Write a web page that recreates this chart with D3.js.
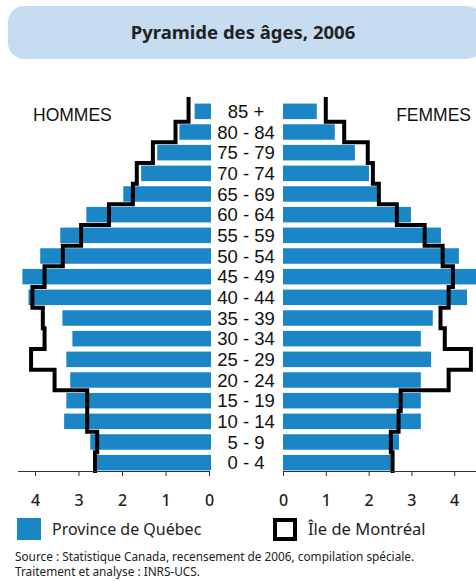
<!DOCTYPE html>
<html><head><meta charset="utf-8">
<script src="https://cdn.jsdelivr.net/npm/d3@7"></script>
<style>body{margin:0;background:#fff;} svg{display:block}</style>
</head><body>
<script>
const ageGroups = ["85 +","80 - 84","75 - 79","70 - 74","65 - 69","60 - 64","55 - 59","50 - 54","45 - 49","40 - 44","35 - 39","30 - 34","25 - 29","20 - 24","15 - 19","10 - 14","5 - 9","0 - 4"];
const quebecMen     = [0.33,0.68,1.19,1.56,1.97,2.82,3.42,3.88,4.29,4.15,3.37,3.14,3.28,3.19,3.28,3.33,2.73,2.59];
const montrealMen   = [0.47,0.77,1.29,1.66,1.75,2.30,2.94,3.36,3.78,4.06,3.82,3.78,4.09,3.55,2.80,2.80,2.57,2.62];
const quebecWomen   = [0.79,1.21,1.68,2.01,2.20,2.99,3.69,4.11,4.55,4.30,3.50,3.22,3.46,3.22,3.22,3.22,2.71,2.52];
const montrealWomen = [1.00,1.43,1.98,2.10,2.24,2.66,3.31,3.73,3.97,3.87,3.68,3.78,4.39,3.87,2.75,2.70,2.52,2.56];
const tickValues = [0,1,2,3,4];
const titleText = "Pyramide des âges, 2006";
const legendLabels = ["Province de Québec","Île de Montréal"];
const sourceLines = ["Source : Statistique Canada, recensement de 2006, compilation spéciale.","Traitement et analyse : INRS-UCS."];

const W = 476, H = 581;
const blue = "#1b86c6";
const font = "'Noto Sans', 'DejaVu Sans', sans-serif";
const svg = d3.select("body").append("svg").attr("width", W).attr("height", H);

// title box
svg.append("rect").attr("x", 8).attr("y", 6).attr("width", 475).attr("height", 53)
  .attr("rx", 16).attr("fill", "#c5dcf1");
svg.append("text").attr("x", 243).attr("y", 39).attr("text-anchor", "middle")
  .attr("font-family", font).attr("font-weight", "bold").attr("font-size", 18.5)
  .attr("fill", "#222").text(titleText);

// scales
const y = d3.scaleBand().domain(ageGroups).range([101, 473]).paddingInner(0.25).paddingOuter(0.125);
const xL = d3.scaleLinear().domain([0, 4.4]).range([209, 209 - 4.4 * 43.5]);
const xR = d3.scaleLinear().domain([0, 4.5]).range([283, 283 + 4.5 * 42.8]);
const axisY = 471;

// bars
svg.append("g").selectAll("rect").data(ageGroups).join("rect")
  .attr("x", (d, i) => xL(quebecMen[i])).attr("y", d => y(d))
  .attr("width", (d, i) => xL(0) - xL(quebecMen[i]) + 2).attr("height", y.bandwidth())
  .attr("fill", blue);
svg.append("g").selectAll("rect").data(ageGroups).join("rect")
  .attr("x", xR(0)).attr("y", d => y(d))
  .attr("width", (d, i) => xR(quebecWomen[i]) - xR(0)).attr("height", y.bandwidth())
  .attr("fill", blue);

// step lines
const half = y.step() * y.paddingInner() / 2;
function stepPoints(vals, x) {
  const pts = [];
  ageGroups.forEach((a, i) => {
    const top = y(a) - half - (i === 0 ? 4 : 0);
    pts.push([x(vals[i]), top], [x(vals[i]), y(a) - half + y.step()]);
  });
  return pts;
}
const line = d3.line();
[[montrealMen, xL], [montrealWomen, xR]].forEach(([v, x]) => {
  svg.append("path").attr("d", line(stepPoints(v, x))).attr("fill", "none")
    .attr("stroke", "#000").attr("stroke-width", 4).attr("stroke-linejoin", "miter");
});

// age labels
svg.append("g").selectAll("text").data(ageGroups).join("text")
  .attr("x", 246).attr("y", d => y(d) + y.bandwidth() / 2).attr("dy", "0.36em")
  .attr("text-anchor", "middle").attr("font-family", "'Liberation Sans', Arial, sans-serif")
  .attr("font-size", 18.5).attr("fill", "#111").text(d => d);

// side labels
svg.append("text").attr("x", 33).attr("y", 121).attr("font-family", "'Liberation Sans', Arial, sans-serif")
  .attr("font-size", 17.5).attr("fill", "#111").text("HOMMES");
svg.append("text").attr("x", 471).attr("y", 121).attr("text-anchor", "end").attr("font-family", "'Liberation Sans', Arial, sans-serif")
  .attr("font-size", 17.5).attr("fill", "#111").text("FEMMES");

// axes
function styleAxis(g) {
  g.selectAll("path,line").attr("stroke", "#333");
  g.selectAll("text").attr("font-family", font).attr("font-size", 16).attr("font-weight", 500).attr("fill", "#222");
}
svg.append("g").attr("transform", `translate(0,${axisY})`)
  .call(d3.axisBottom(xL).tickValues(tickValues).tickFormat(d3.format("d")).tickSizeInner(5).tickSizeOuter(0).tickPadding(19))
  .call(styleAxis);
svg.append("g").attr("transform", `translate(0,${axisY})`)
  .call(d3.axisBottom(xR).tickValues(tickValues).tickFormat(d3.format("d")).tickSizeInner(5).tickSizeOuter(0).tickPadding(19))
  .call(styleAxis);

// legend
svg.append("rect").attr("x", 17).attr("y", 518).attr("width", 24).attr("height", 22).attr("fill", blue);
svg.append("text").attr("x", 52).attr("y", 535).attr("font-family", font).attr("font-size", 16)
  .attr("fill", "#222").text(legendLabels[0]);
svg.append("rect").attr("x", 275).attr("y", 520).attr("width", 20).attr("height", 19)
  .attr("fill", "#fff").attr("stroke", "#000").attr("stroke-width", 4);
svg.append("text").attr("x", 308).attr("y", 535).attr("font-family", font).attr("font-size", 16.5)
  .attr("fill", "#222").text(legendLabels[1]);

// source
svg.append("g").selectAll("text").data(sourceLines).join("text")
  .attr("x", 15).attr("y", (d, i) => 561 + i * 15).attr("font-family", font).attr("font-size", 11.8)
  .attr("fill", "#222").text(d => d);
</script>
</body></html>
